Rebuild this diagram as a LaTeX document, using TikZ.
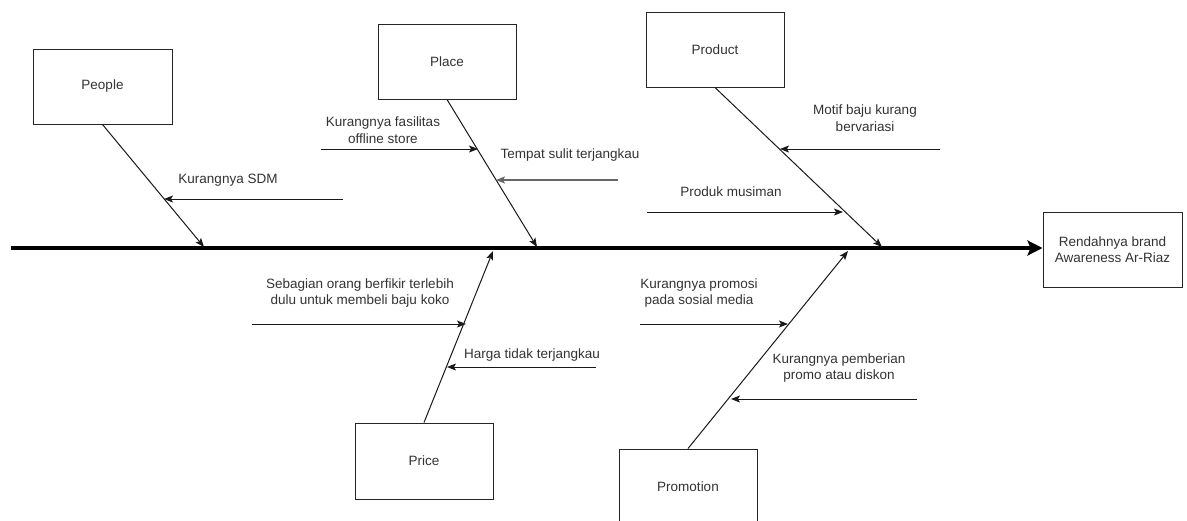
\documentclass[tikz,border=0pt]{standalone}
\usepackage{fontspec}
\setmainfont{Liberation Sans}
\usetikzlibrary{arrows.meta,calc}
\begin{document}
\begin{tikzpicture}[x=1pt,y=-1pt,
  font=\fontsize{13.5}{16.5}\selectfont,
  box/.style={draw=black!85,line width=1pt,fill=white,text=black!80,align=center,inner sep=0pt},
  lbl/.style={text=black!80,align=center,inner sep=0pt},
  bone/.style={draw=black!90,line width=1pt,-{Stealth[length=9pt,width=7pt,inset=2pt]}},
  cause/.style={draw=black!90,line width=1pt,-{Stealth[length=9pt,width=7pt,inset=2pt]}},
  spine/.style={draw=black,line width=3.6pt,-{Stealth[length=15pt,width=15pt,inset=3pt]}}]
\useasboundingbox (0,0) rectangle (1187,520);

% boxes
\node[box,minimum width=139,minimum height=75] (people) at (102.5,86.5) {People};
\node[box,minimum width=138,minimum height=75] (place) at (447,61.5) {Place};
\node[box,minimum width=138,minimum height=75] (product) at (715,49.5) {Product};
\node[box,minimum width=139,minimum height=75] (effect) at (1112.5,249.5) {Rendahnya brand\\Awareness Ar-Riaz};
\node[box,minimum width=138,minimum height=76] (price) at (424,461) {Price};
\begin{scope}
\clip (0,0) rectangle (1187,520);
\node[box,minimum width=138,minimum height=75] (promotion) at (688,486.5) {Promotion};
\end{scope}

% spine
\coordinate (spinestart) at (11,248);
\draw[spine] (spinestart) -- (spinestart -| effect.west);

% bone end points on the spine
\coordinate (peopleEnd) at (204,247);
\coordinate (placeEnd) at (537,247);
\coordinate (productEnd) at (882,247);
\coordinate (priceEnd) at (493,251);
\coordinate (promoEnd) at (848,251);

\draw[bone] (people.south) -- (peopleEnd);
\draw[bone] (place.south) -- (placeEnd);
\draw[bone] (product.south) -- (productEnd);
\draw[bone] (price.north) -- (priceEnd);
\draw[bone] (promotion.north) -- (promoEnd);

% cause arrows
\coordinate (c1s) at (343,199); \coordinate (c1e) at (164,199);
\draw[cause] (c1s) -- (c1e);
\node[lbl] (l1) at (228,180) {Kurangnya SDM};

\coordinate (c2s) at (321,149); \coordinate (c2e) at (478,149);
\draw[cause] (c2s) -- (c2e);
\node[lbl] (l2) at (383,130) {Kurangnya fasilitas\\offline store};

\coordinate (c3s) at (618,180); \coordinate (c3e) at (496,180);
\draw[cause,draw=black!60,line width=1.4pt] (c3s) -- (c3e);
\node[lbl] (l3) at (570,155) {Tempat sulit terjangkau};

\coordinate (c4s) at (940,149); \coordinate (c4e) at (780,149);
\draw[cause] (c4s) -- (c4e);
\node[lbl] (l4) at (865,118) {Motif baju kurang\\bervariasi};

\coordinate (c5s) at (647,212); \coordinate (c5e) at (843,212);
\draw[cause] (c5s) -- (c5e);
\node[lbl] (l5) at (731,192) {Produk musiman};

\coordinate (c6s) at (252,324); \coordinate (c6e) at (466,324);
\draw[cause] (c6s) -- (c6e);
\node[lbl] (l6) at (360,293) {Sebagian orang berfikir terlebih\\dulu untuk membeli baju koko};

\coordinate (c7s) at (596,367); \coordinate (c7e) at (447,367);
\draw[cause] (c7s) -- (c7e);
\node[lbl] (l7) at (532,355) {Harga tidak terjangkau};

\coordinate (c8s) at (640,324); \coordinate (c8e) at (788,324);
\draw[cause] (c8s) -- (c8e);
\node[lbl] (l8) at (699,293) {Kurangnya promosi\\pada sosial media};

\coordinate (c9s) at (917,399); \coordinate (c9e) at (731,399);
\draw[cause] (c9s) -- (c9e);
\node[lbl] (l9) at (839,368) {Kurangnya pemberian\\promo atau diskon};
\end{tikzpicture}
\end{document}
